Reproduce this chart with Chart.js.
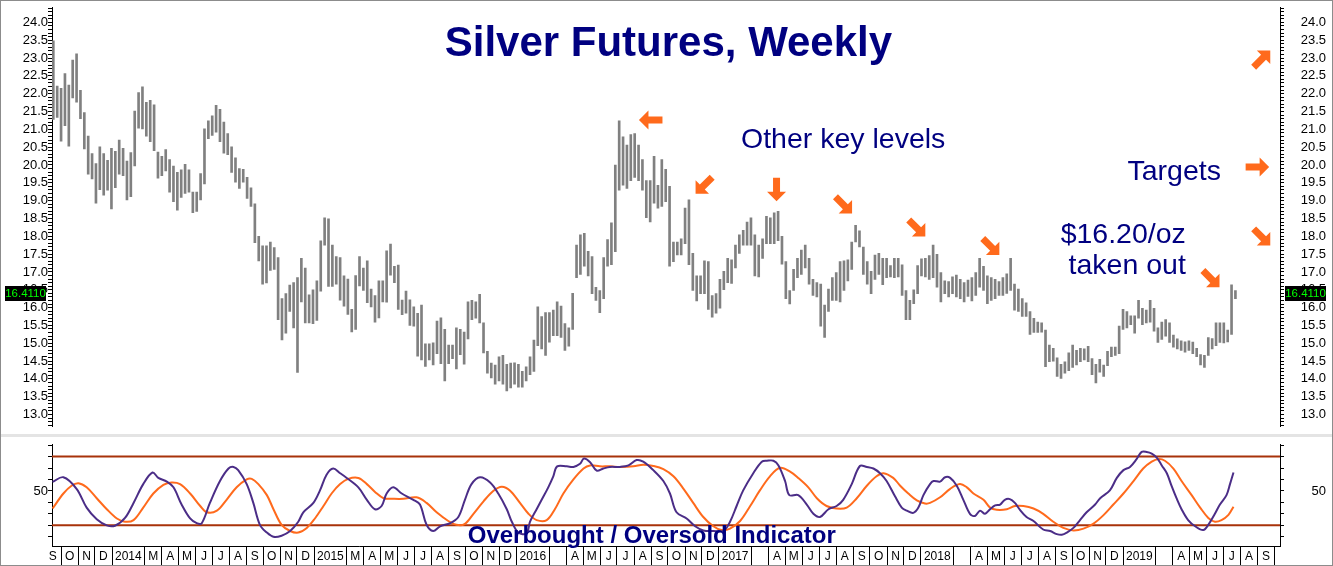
<!DOCTYPE html>
<html lang="en">
<head>
<meta charset="UTF-8">
<title>Silver Futures, Weekly</title>
<script src="https://cdn.jsdelivr.net/npm/chart.js@4.4.1/dist/chart.umd.min.js"></script>
<style>
    body { margin: 0; background: #fff; }
    #wrap { position: relative; width: 1333px; height: 566px; overflow: hidden; background: #fff; }
    #priceCanvas { position: absolute; left: 0; top: 0; }
    #gap { position: absolute; left: 0; top: 434px; width: 1333px; height: 3px; background: #e4e4e4; }
    #oscCanvas { position: absolute; left: 0; top: 437px; }
    #frame { position: absolute; left: 0; top: 0; width: 1333px; height: 566px; box-sizing: border-box; border: 1px solid #8c8c8c; pointer-events: none; }
</style>
</head>
<body>
<div id="wrap">
    <canvas id="priceCanvas" width="1333" height="434"></canvas>
    <div id="gap"></div>
    <canvas id="oscCanvas" width="1333" height="129"></canvas>
    <div id="frame"></div>
</div>
<script>
// weekly bars, index 0 = week of 17 Sep 2013
const highs = [
    23.48, 22.21, 22.15, 22.56, 22.24, 22.94, 23.12, 22.09, 21.47, 20.81,
    20.32, 20.04, 20.51, 20.32, 20.13, 20.47, 20.38, 20.70, 20.47, 20.11,
    20.35, 21.51, 22.03, 22.19, 21.76, 21.81, 21.69, 20.36, 20.24, 20.43,
    20.15, 19.97, 19.79, 19.86, 20.02, 19.86, 19.24, 19.24, 19.76, 21.01,
    21.24, 21.38, 21.67, 21.56, 21.20, 20.88, 20.51, 20.20, 19.90, 19.88,
    19.65, 19.36, 18.91, 18.00, 17.73, 17.73, 17.84, 17.68, 17.40, 16.25,
    16.39, 16.63, 16.70, 16.84, 17.38, 17.11, 16.36, 16.50, 16.75, 17.87,
    18.52, 18.49, 17.75, 17.43, 17.40, 16.89, 16.80, 15.95, 16.90, 17.43,
    17.11, 17.31, 16.52, 16.34, 16.75, 16.75, 17.59, 17.78, 17.16, 17.19,
    16.21, 16.46, 16.22, 16.02, 15.84, 16.07, 14.98, 14.98, 15.01, 15.62,
    15.71, 15.39, 14.95, 14.95, 15.43, 15.39, 15.31, 16.16, 16.20, 16.16,
    16.37, 15.57, 14.77, 14.44, 14.39, 14.62, 14.66, 14.41, 14.44, 14.45,
    14.41, 14.21, 14.34, 14.62, 15.09, 16.02, 15.75, 15.86, 15.86, 15.93,
    16.16, 16.04, 15.55, 15.43, 16.40, 17.75, 18.04, 18.08, 17.58, 17.43,
    16.57, 16.48, 17.40, 17.91, 18.38, 20.00, 21.24, 20.79, 20.56, 20.85,
    20.88, 20.56, 20.15, 19.56, 19.56, 20.24, 19.43, 20.15, 19.88, 19.40,
    17.84, 17.84, 17.93, 18.79, 19.02, 17.52, 16.89, 16.89, 17.31, 17.29,
    16.34, 16.39, 16.79, 17.02, 17.38, 17.34, 17.75, 18.04, 18.17, 18.40,
    18.52, 18.04, 17.75, 17.93, 18.56, 18.52, 18.66, 18.70, 18.00, 17.29,
    16.48, 17.07, 17.38, 17.61, 17.75, 17.38, 16.79, 16.70, 16.66, 16.07,
    16.52, 16.84, 16.98, 17.29, 17.31, 17.34, 17.84, 18.31, 18.15, 17.70,
    17.29, 17.02, 17.47, 17.52, 17.38, 17.38, 17.18, 17.38, 17.38, 17.20,
    16.48, 16.20, 16.50, 17.18, 17.37, 17.38, 17.46, 17.75, 17.49, 16.98,
    16.75, 16.73, 16.86, 16.91, 16.79, 16.70, 16.77, 16.84, 16.98, 17.38,
    17.16, 16.89, 16.84, 16.79, 16.73, 16.84, 16.95, 17.38, 16.66, 16.52,
    16.25, 16.13, 15.89, 15.70, 15.59, 15.57, 15.37, 14.95, 14.86, 14.59,
    14.41, 14.48, 14.73, 14.95, 14.80, 14.86, 14.84, 14.91, 14.57, 14.41,
    14.55, 14.39, 14.77, 14.89, 14.89, 15.48, 15.95, 15.89, 15.77, 15.77,
    16.20, 15.98, 15.93, 16.20, 15.98, 15.43, 15.59, 15.66, 15.57, 15.23,
    15.12, 15.07, 15.04, 15.07, 15.03, 14.86, 14.68, 14.66, 15.16, 15.13,
    15.57, 15.57, 15.57, 15.37, 16.64, 16.48
];
const lows = [
    21.28, 21.33, 20.67, 21.10, 20.53, 21.88, 21.76, 21.30, 20.45, 19.74,
    19.61, 18.93, 19.31, 19.15, 19.29, 18.77, 19.36, 19.74, 19.70, 19.02,
    19.11, 19.97, 21.03, 21.01, 20.81, 20.65, 20.40, 19.63, 19.70, 19.83,
    19.24, 18.97, 18.73, 19.09, 19.20, 19.24, 18.66, 18.70, 19.02, 19.47,
    20.74, 20.83, 20.92, 20.65, 20.33, 20.29, 19.79, 19.52, 19.34, 19.52,
    19.06, 18.84, 17.82, 17.31, 16.66, 16.69, 17.04, 17.07, 15.66, 15.09,
    15.28, 15.89, 15.43, 14.18, 16.16, 15.57, 15.57, 15.55, 15.64, 16.46,
    17.75, 16.59, 16.59, 16.66, 16.21, 16.04, 15.81, 15.32, 15.39, 16.61,
    16.48, 16.14, 16.02, 15.59, 15.71, 16.16, 16.15, 16.91, 16.70, 15.95,
    15.80, 15.84, 15.50, 15.48, 14.64, 14.53, 14.35, 14.53, 14.39, 14.71,
    14.43, 13.94, 14.43, 14.57, 14.28, 14.68, 14.41, 15.12, 15.66, 15.70,
    15.57, 14.73, 14.16, 14.03, 13.85, 13.94, 13.85, 13.66, 13.75, 13.85,
    13.77, 13.77, 13.94, 14.12, 14.21, 14.93, 14.84, 14.66, 15.03, 15.21,
    15.21, 15.16, 14.80, 14.92, 15.39, 16.84, 16.93, 17.16, 16.89, 16.39,
    16.20, 15.86, 16.25, 17.16, 17.20, 17.57, 19.29, 19.43, 19.34, 19.56,
    19.65, 19.56, 19.29, 18.52, 18.40, 18.93, 18.79, 18.84, 18.97, 17.16,
    17.29, 17.48, 17.48, 17.79, 17.20, 16.48, 16.19, 16.39, 16.39, 15.95,
    15.73, 15.84, 15.98, 16.50, 16.70, 16.68, 17.11, 17.52, 17.75, 17.75,
    17.75, 16.89, 16.86, 17.38, 17.79, 17.79, 17.79, 17.88, 17.22, 16.25,
    16.10, 16.48, 16.84, 16.93, 17.11, 16.66, 16.34, 16.30, 15.48, 15.16,
    15.89, 16.20, 16.20, 16.16, 16.48, 16.75, 17.07, 17.84, 17.70, 16.93,
    16.66, 16.39, 16.79, 16.93, 16.64, 16.84, 16.86, 16.84, 16.86, 16.34,
    15.66, 15.66, 16.11, 16.39, 16.89, 16.86, 16.79, 16.84, 16.57, 16.16,
    16.39, 16.30, 16.39, 16.30, 16.25, 16.16, 16.31, 16.19, 16.34, 16.57,
    16.48, 16.11, 16.20, 16.25, 16.34, 16.34, 16.40, 16.48, 15.93, 15.89,
    15.75, 15.75, 15.25, 15.30, 15.30, 15.31, 14.34, 14.48, 14.50, 14.07,
    14.01, 14.16, 14.23, 14.32, 14.39, 14.48, 14.53, 14.48, 14.12, 13.89,
    14.19, 14.07, 14.37, 14.62, 14.66, 14.71, 15.39, 15.43, 15.52, 15.28,
    15.70, 15.52, 15.57, 15.59, 15.34, 15.02, 15.11, 15.20, 15.02, 14.89,
    14.84, 14.80, 14.75, 14.80, 14.71, 14.62, 14.39, 14.32, 14.66, 14.84,
    14.93, 15.02, 15.01, 15.04, 15.25, 16.25
];
const lastPrice = 16.411;

// overbought / oversold indicator, read at these week positions
const fastWeeks = [
    -0.2, 2.6, 6.0, 8.6, 11.2, 13.8, 15.9, 18.5, 20.7, 23.2, 25.6, 27.1, 29.3, 31.0, 33.1, 35.3,
    37.0, 38.3, 40.4, 43.0, 45.2, 46.5, 47.7, 49.9, 51.6, 53.3, 55.1, 56.8, 58.9, 61.1, 63.2, 64.5,
    67.1, 68.8, 70.5, 72.2, 74.0, 75.7, 78.7, 80.9, 83.0, 84.7, 86.0, 87.7, 89.9, 92.9, 94.6, 96.3,
    98.0, 99.8, 102.4, 104.5, 106.2, 107.9, 110.1, 112.7, 114.8, 117.0, 118.3, 120.0, 122.1, 123.0,
    124.7, 126.0, 127.7, 129.0, 130.0, 132.5, 134.2, 135.9, 136.9, 138.5, 140.2, 141.9, 143.6, 146.2,
    148.4, 150.5, 152.2, 154.8, 157.4, 159.1, 160.8, 163.4, 165.6, 167.7, 170.3, 172.9, 174.6, 176.3,
    178.0, 180.6, 182.8, 184.1, 185.8, 187.1, 188.8, 189.9, 192.2, 194.4, 196.1, 197.8, 200.0, 202.1,
    203.8, 206.0, 208.1, 209.9, 211.6, 213.3, 215.0, 217.2, 218.9, 220.2, 221.9, 223.2, 224.5, 226.2,
    227.1, 228.8, 230.1, 231.4, 233.1, 234.8, 236.5, 237.8, 239.1, 240.4, 241.7, 243.0, 244.3, 245.5,
    246.8, 248.1, 249.4, 251.1, 252.9, 255.4, 257.2, 258.9, 260.2, 261.5, 263.2, 264.9, 266.6, 268.8,
    270.1, 272.6, 274.4, 276.1, 277.8, 279.5, 280.8, 282.1, 283.4, 284.7, 286.0, 287.3, 288.5, 289.8,
    291.1, 292.8, 294.6, 296.7, 298.0, 299.7, 301.0, 302.7, 303.6, 304.5
];
const fastValues = [
    57.9, 62.0, 51.9, 35.5, 25.4, 20.0, 19.7, 26.5, 39.6, 56.0, 66.1, 61.4, 58.2, 53.2, 38.2, 26.0,
    21.9, 21.9, 39.6, 58.7, 69.6, 71.0, 68.2, 56.0, 39.6, 20.5, 13.7, 10.0, 11.0, 15.1, 23.2, 31.4,
    39.6, 50.5, 64.2, 69.6, 65.5, 61.4, 53.2, 42.3, 34.1, 36.9, 47.8, 53.2, 47.8, 42.3, 38.2, 20.5,
    15.1, 19.2, 21.9, 27.3, 42.3, 56.0, 62.0, 57.4, 47.8, 34.1, 23.2, 13.7, 13.0, 23.2,
    34.1, 42.3, 53.2, 62.8, 71.5, 71.5, 71.0, 73.7, 78.3, 75.1, 67.7, 69.6, 71.0, 71.0,
    72.3, 77.0, 75.6, 68.2, 58.7, 47.8, 31.4, 26.0, 19.2, 15.6, 15.1, 15.1, 23.2, 36.9,
    50.5, 65.5, 75.6, 76.4, 76.4, 72.3, 58.7, 46.4, 46.4, 38.2, 30.1, 27.3, 34.1, 36.9,
    42.3, 56.0, 71.8, 71.0, 69.6, 65.5, 58.7, 45.1, 35.5, 32.8, 30.9, 35.5, 46.4, 56.0,
    58.7, 58.2, 62.0, 61.4, 54.6, 42.3, 30.1, 28.2, 32.8, 30.1, 34.1, 37.4, 38.2, 42.3,
    42.9, 39.6, 33.6, 27.3, 23.8, 16.4, 15.1, 12.4, 11.8, 13.7, 17.8, 24.6, 31.4, 38.2,
    43.7, 50.5, 61.4, 68.2, 71.0, 77.8, 84.1, 84.1, 82.7, 79.2, 72.3, 65.5, 54.6, 43.7,
    34.1, 24.6, 19.2, 15.9, 20.5, 30.1, 38.2, 46.4, 56.0, 66.1
];
const slowWeeks = [
    -0.2, 2.6, 4.7, 6.5, 8.6, 11.2, 13.8, 16.4, 18.5, 20.7, 23.2, 25.8, 28.4, 30.5, 32.7, 35.3,
    37.9, 39.6, 42.2, 44.7, 47.3, 49.9, 51.2, 52.9, 55.1, 56.8, 58.9, 61.1, 63.2, 65.4, 67.5, 69.7,
    71.8, 74.0, 76.1, 78.7, 80.9, 83.0, 85.2, 87.7, 90.3, 93.7, 96.3, 98.9, 101.9, 104.0, 106.1, 108.4,
    111.0, 113.5, 115.7, 117.8, 120.4, 122.6, 124.7, 127.3, 129.4, 131.6, 134.2, 136.8, 138.5, 141.0,
    143.6, 146.2, 149.7, 152.2, 154.8, 157.4, 160.0, 162.6, 165.1, 167.7, 170.3, 172.4, 174.6, 177.2,
    179.8, 182.3, 184.9, 187.5, 190.1, 192.2, 194.8, 197.0, 199.5, 202.1, 204.7, 207.3, 209.9, 212.4,
    214.2, 216.7, 218.5, 220.6, 222.8, 224.9, 226.2, 228.8, 231.4, 233.9, 235.7, 237.4, 240.0, 241.7,
    243.4, 246.0, 248.1, 250.3, 252.9, 255.4, 258.0, 260.6, 263.2, 265.8, 268.3, 270.9, 273.5, 276.1,
    278.7, 281.2, 283.4, 285.1, 286.8, 289.0, 291.1, 293.7, 295.9, 298.0, 299.7, 301.4, 303.2, 304.5
];
const slowValues = [
    34.7, 47.8, 54.6, 56.8, 53.2, 43.7, 34.1, 26.0, 23.2, 24.6, 35.5, 47.8, 55.4, 57.4, 56.0, 47.8,
    36.9, 31.4, 32.8, 42.3, 53.2, 60.1, 60.6, 56.0, 46.4, 34.1, 20.5, 15.1, 13.7, 17.8, 26.0, 36.9,
    47.8, 56.0, 60.6, 61.4, 56.0, 49.2, 43.7, 43.2, 43.2, 44.5, 39.6, 31.4, 23.8, 20.5, 21.1, 30.1,
    41.0, 50.0, 53.8, 50.5, 39.6, 30.1, 24.6, 24.6, 34.1, 47.8, 60.1, 69.6, 72.3, 71.5,
    71.5, 71.0, 71.5, 72.9, 71.8, 69.1, 62.8, 51.9, 39.6, 27.3, 19.2, 15.9, 17.2, 23.8,
    36.9, 50.5, 62.8, 70.2, 66.9, 61.4, 53.2, 43.7, 36.9, 34.7, 35.5, 43.7, 54.6, 62.8,
    65.5, 61.4, 54.6, 47.8, 41.8, 39.1, 39.6, 44.5, 51.9, 56.0, 53.2, 47.8, 42.3, 35.5,
    33.6, 34.1, 36.9, 36.9, 34.7, 30.1, 23.2, 17.8, 15.6, 17.2, 21.3, 28.7, 38.2, 47.8,
    58.7, 69.6, 75.6, 77.8, 76.4, 69.6, 58.7, 46.4, 35.5, 26.5, 23.2, 24.6, 29.2, 36.3
];
const overbought = 80;
const oversold = 20;

// bottom axis, one entry per month from Sep 2013; null = merged into the year box
const monthLabels = [
    'S', 'O', 'N', 'D',
    '2014', null, 'M', 'A', 'M', 'J', 'J', 'A', 'S', 'O', 'N', 'D',
    '2015', null, 'M', 'A', 'M', 'J', 'J', 'A', 'S', 'O', 'N', 'D',
    '2016', null, '', 'A', 'M', 'J', 'J', 'A', 'S', 'O', 'N', 'D',
    '2017', null, '', 'A', 'M', 'J', 'J', 'A', 'S', 'O', 'N', 'D',
    '2018', null, '', 'A', 'M', 'J', 'J', 'A', 'S', 'O', 'N', 'D',
    '2019', null, '', 'A', 'M', 'J', 'J', 'A', 'S', 'O'
];

// notes and arrows, placed in week / price units
const priceNotes = [
    { text: 'Silver Futures, Weekly', week: 158.7, price: 23.07, font: 'bold 42px', align: 'center' },
    { text: 'Other key levels', week: 203.8, price: 20.47, font: '28.5px', align: 'center' },
    { text: 'Targets', week: 289.2, price: 19.58, font: '28.5px', align: 'center' },
    { text: '$16.20/oz', week: 292.2, price: 17.82, font: '28.5px', align: 'right' },
    { text: 'taken out', week: 292.2, price: 16.93, font: '28.5px', align: 'right' }
];
const arrows = [
    { week: 154.2, price: 21.26, angle: 180 },
    { week: 167.9, price: 19.43, angle: 135 },
    { week: 186.6, price: 19.32, angle: 90 },
    { week: 203.9, price: 18.88, angle: 45 },
    { week: 222.8, price: 18.23, angle: 45 },
    { week: 241.9, price: 17.71, angle: 45 },
    { week: 298.7, price: 16.81, angle: 45 },
    { week: 311.8, price: 22.97, angle: -45 },
    { week: 310.6, price: 19.94, angle: 0 },
    { week: 311.8, price: 17.98, angle: 45 }
];
const oscNote = { text: 'Overbought / Oversold Indicator', week: 154.4, value: 4.2 };

const X_MIN = -0.34;
const X_MAX = 316.5;
const FONT = '"Liberation Sans", Arial, Helvetica, sans-serif';
const NAVY = '#000080';
const ORANGE = '#ff6a1c';
const BAR_START = Date.UTC(2013, 8, 17);

Chart.defaults.font.family = FONT;
Chart.defaults.color = '#000';

let weekOf = (y, m, d) => (Date.UTC(y, m, d) - BAR_START) / (7 * 864e5);

let buildMonthTicks = () => {
    const list = [];
    for (let i = 0; i < monthLabels.length; i++) {
        const lab = monthLabels[i];
        if (lab === null) continue;
        let j = i + 1;
        while (j < monthLabels.length && monthLabels[j] === null) j++;
        const start = weekOf(2013, 8 + i, 1);
        const end = weekOf(2013, 8 + j, 1);
        list.push({ value: start, label: '', sep: true });
        if (lab) list.push({ value: (start + end) / 2, label: lab, sep: false });
    }
    return list.filter(t => t.value >= X_MIN && t.value <= X_MAX).sort((a, b) => a.value - b.value);
};
const monthTicks = buildMonthTicks();

let drawArrow = (ctx, cx, cy, angle) => {
    ctx.save();
    ctx.translate(cx, cy);
    ctx.rotate(angle * Math.PI / 180);
    ctx.beginPath();
    ctx.moveTo(-11.5, -3.5);
    ctx.lineTo(2.5, -3.5);
    ctx.lineTo(2.5, -9.5);
    ctx.lineTo(12, 0);
    ctx.lineTo(2.5, 9.5);
    ctx.lineTo(2.5, 3.5);
    ctx.lineTo(-11.5, 3.5);
    ctx.closePath();
    ctx.fillStyle = ORANGE;
    ctx.fill();
    ctx.restore();
};

let drawBadge = (ctx, x, y) => {
    ctx.fillStyle = '#000';
    ctx.fillRect(x, Math.round(y) - 7, 41, 15);
    ctx.fillStyle = '#00ff00';
    ctx.font = '11.5px ' + FONT;
    ctx.textAlign = 'center';
    ctx.textBaseline = 'middle';
    ctx.fillText(lastPrice.toFixed(4), x + 20.5, Math.round(y) + 1);
};

const priceNotesPlugin = {
    id: 'priceNotes',
    afterDraw(chart) {
        const { ctx, scales, chartArea } = chart;
        ctx.save();
        priceNotes.forEach(n => {
            ctx.font = n.font + ' ' + FONT;
            ctx.fillStyle = NAVY;
            ctx.textAlign = n.align;
            ctx.textBaseline = 'alphabetic';
            ctx.fillText(n.text, scales.x.getPixelForValue(n.week), scales.y.getPixelForValue(n.price));
        });
        arrows.forEach(a => drawArrow(ctx, scales.x.getPixelForValue(a.week), scales.y.getPixelForValue(a.price), a.angle));
        const yLast = scales.y.getPixelForValue(lastPrice);
        drawBadge(ctx, chartArea.left - 47, yLast);
        drawBadge(ctx, chartArea.right + 5, yLast);
        ctx.restore();
    }
};

const oscNotePlugin = {
    id: 'oscNote',
    afterDraw(chart) {
        const { ctx, scales } = chart;
        ctx.save();
        ctx.font = 'bold 24px ' + FONT;
        ctx.fillStyle = NAVY;
        ctx.textAlign = 'center';
        ctx.textBaseline = 'alphabetic';
        ctx.fillText(oscNote.text, scales.x.getPixelForValue(oscNote.week), scales.y.getPixelForValue(oscNote.value));
        ctx.restore();
    }
};

let priceAxis = (position, width) => ({
    position: position,
    min: 12.673,
    max: 24.408,
    afterFit: (s) => { s.width = width; },
    afterBuildTicks: (s) => {
        const t = [];
        for (let k = 127; k <= 244; k++) t.push({ value: k / 10 });
        s.ticks = t;
    },
    ticks: {
        autoSkip: false,
        padding: 0,
        crossAlign: position === 'right' ? 'far' : 'near',
        font: { size: 13 },
        color: '#000',
        callback: (v) => (Math.round(v * 10) % 5 === 0 ? v.toFixed(1) : '')
    },
    grid: { drawOnChartArea: false, tickLength: 4, color: '#000' },
    border: { display: true, color: '#000' }
});

let oscAxis = (position, width) => ({
    position: position,
    min: 2,
    max: 90.3,
    afterFit: (s) => { s.width = width; },
    afterBuildTicks: (s) => {
        const t = [];
        for (let v = 10; v <= 90; v += 10) t.push({ value: v });
        s.ticks = t;
    },
    ticks: {
        autoSkip: false,
        padding: 0,
        crossAlign: position === 'right' ? 'far' : 'near',
        font: { size: 13 },
        color: '#000',
        callback: (v) => (v === 50 ? '50' : '')
    },
    grid: { drawOnChartArea: false, tickLength: 4, color: '#000' },
    border: { display: true, color: '#000' }
});

const priceChart = new Chart(document.getElementById('priceCanvas'), {
    type: 'bar',
    data: {
        datasets: [{
            data: highs.map((h, i) => ({ x: i, y: [lows[i], h] })),
            backgroundColor: '#808080',
            borderWidth: 0,
            barThickness: 2
        }]
    },
    options: {
        responsive: false,
        animation: false,
        devicePixelRatio: 1,
        layout: { padding: { top: 2, bottom: 1, left: 0, right: 7 } },
        plugins: { legend: { display: false }, tooltip: { enabled: false } },
        scales: {
            x: { type: 'linear', min: X_MIN, max: X_MAX, offset: false, display: false },
            y: priceAxis('left', 52),
            y2: priceAxis('right', 46)
        }
    },
    plugins: [priceNotesPlugin]
});

let levelLine = (v) => ({
    data: [{ x: X_MIN, y: v }, { x: X_MAX, y: v }],
    borderColor: '#a8320a',
    borderWidth: 2,
    pointRadius: 0
});

const oscChart = new Chart(document.getElementById('oscCanvas'), {
    type: 'line',
    data: {
        datasets: [
            {
                data: fastWeeks.map((w, i) => ({ x: w, y: fastValues[i] })),
                borderColor: '#4b2d87',
                borderWidth: 2,
                pointRadius: 0,
                tension: 0.35
            },
            {
                data: slowWeeks.map((w, i) => ({ x: w, y: slowValues[i] })),
                borderColor: ORANGE,
                borderWidth: 2,
                pointRadius: 0,
                tension: 0.35
            },
            levelLine(overbought),
            levelLine(oversold)
        ]
    },
    options: {
        responsive: false,
        animation: false,
        devicePixelRatio: 1,
        layout: { padding: { top: 1, bottom: 0, left: 0, right: 7 } },
        plugins: { legend: { display: false }, tooltip: { enabled: false } },
        scales: {
            x: {
                type: 'linear',
                min: X_MIN,
                max: X_MAX,
                afterFit: (s) => { s.height = 20; },
                afterBuildTicks: (s) => { s.ticks = monthTicks.map(t => ({ value: t.value })); },
                ticks: {
                    autoSkip: false,
                    maxRotation: 0,
                    minRotation: 0,
                    padding: -17,
                    font: { size: 12 },
                    color: '#000',
                    callback: (v, i) => monthTicks[i].label
                },
                grid: {
                    drawOnChartArea: false,
                    tickLength: 20,
                    color: (c) => (monthTicks[c.index] && monthTicks[c.index].sep ? '#000' : 'rgba(0,0,0,0)')
                },
                border: { display: true, color: '#000' }
            },
            y: oscAxis('left', 52),
            y2: oscAxis('right', 46)
        }
    },
    plugins: [oscNotePlugin]
});
</script>
</body>
</html>
